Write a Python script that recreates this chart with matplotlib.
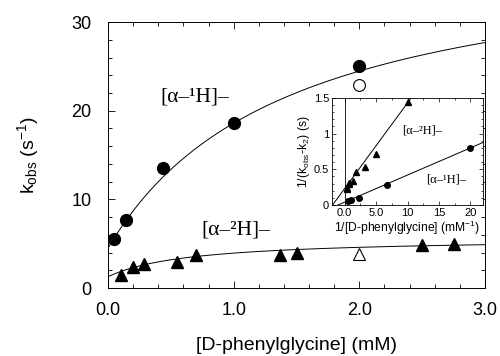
import numpy as np
import matplotlib
matplotlib.use("Agg")
import matplotlib.pyplot as plt
from matplotlib.ticker import MultipleLocator, FixedLocator, FormatStrFormatter

plt.rcParams['font.family'] = ['Liberation Sans', 'DejaVu Sans']
plt.rcParams['mathtext.fontset'] = 'custom'
plt.rcParams['mathtext.rm'] = 'Liberation Sans'
plt.rcParams['mathtext.it'] = 'Liberation Sans'
plt.rcParams['mathtext.default'] = 'regular'

# main panel: k_obs vs [D-phenylglycine]
h_conc = [0.05, 0.14, 0.44, 1.0, 2.0]
h_kobs = [5.5, 7.7, 13.5, 18.6, 25.0]
h_open = (2.0, 22.9)
d_conc = [0.10, 0.20, 0.29, 0.55, 0.70, 1.37, 1.50, 2.50, 2.75]
d_kobs = [1.47, 2.4, 2.7, 2.9, 3.7, 3.7, 4.0, 4.85, 4.96]
d_open = (2.0, 3.8)
# hyperbolic fits k = k0 + kmax*S/(K+S)
h_fit = (4.5, 34.25, 1.43)
d_fit = (1.27, 4.4, 0.65)

# inset: double reciprocal
inv_d = [10.0, 5.0, 3.3, 1.8, 1.4, 0.72, 0.66, 0.40, 0.36]
rec_d = [1.44, 0.71, 0.53, 0.46, 0.33, 0.31, 0.30, 0.24, 0.23]
inv_h = [20.0, 6.8, 2.3, 1.0, 0.5]
rec_h = [0.80, 0.28, 0.10, 0.07, 0.05]
line_d = (0.12, 0.23)   # slope, intercept
line_h = (0.038, 0.04)

fig = plt.figure(figsize=(5.0, 3.56), dpi=100)
ax = fig.add_axes([0.216, 0.191, 0.754, 0.747])

s = np.linspace(0, 3.0, 300)
for (k0, kmax, K) in (h_fit, d_fit):
    ax.plot(s, k0 + kmax * s / (K + s), color='black', lw=0.7)
ax.plot(h_conc, h_kobs, 'o', color='black', ms=8.5)
ax.plot(*h_open, 'o', mfc='white', mec='black', mew=0.8, ms=8.5)
ax.plot(d_conc, d_kobs, '^', color='black', ms=8)
ax.plot(*d_open, '^', mfc='white', mec='black', mew=0.8, ms=8)

ax.set_xlim(0, 3.0)
ax.set_ylim(0, 30)
ax.xaxis.set_major_locator(MultipleLocator(1.0))
ax.xaxis.set_minor_locator(MultipleLocator(0.2))
ax.yaxis.set_major_locator(MultipleLocator(10))
ax.yaxis.set_minor_locator(MultipleLocator(2))
ax.xaxis.set_major_formatter(FormatStrFormatter('%.1f'))
ax.tick_params(which='both', direction='in', top=True, right=True, labelsize=13, width=0.6)
ax.tick_params(which='major', length=5)
ax.tick_params(which='minor', length=3)
ax.tick_params(axis='x', which='major', pad=10)
ax.tick_params(axis='y', which='major', pad=12)
for sp in ax.spines.values():
    sp.set_linewidth(0.7)
ax.set_xlabel('[D-phenylglycine] (mM)', fontsize=14, labelpad=13)
ax.set_ylabel(r'k$_{obs}$ (s$^{-1}$)', fontsize=14, labelpad=22)

ax.text(0.42, 21.5, '[α–¹H]–', family='Liberation Serif', fontsize=15.5, va='center')
ax.text(0.74, 6.5, '[α–²H]–', family='Liberation Serif', fontsize=15.5, va='center')

# inset
ins = fig.add_axes([0.664, 0.424, 0.302, 0.301])
ins.set_facecolor('white')
xx = np.linspace(-2, 22, 200)
ins.plot(xx, line_d[0] * xx + line_d[1], color='black', lw=0.7)
ins.plot(xx, line_h[0] * xx + line_h[1], color='black', lw=0.7)
ins.axvline(0, color='black', lw=0.6)
ins.plot(inv_d, rec_d, '^', color='black', ms=4)
ins.plot(inv_h, rec_h, 'o', color='black', ms=4)
ins.set_xlim(-2, 22)
ins.set_ylim(0, 1.5)
ins.xaxis.set_major_locator(FixedLocator([0, 5, 10, 15, 20]))
ins.set_xticklabels(['0.0', '5.0', '10', '15', '20'])
ins.xaxis.set_minor_locator(MultipleLocator(2.5))
ins.yaxis.set_major_locator(FixedLocator([0, 0.5, 1.0, 1.5]))
ins.set_yticklabels(['0', '0.5', '1', '1.5'])
ins.yaxis.set_minor_locator(MultipleLocator(0.1))
ins.tick_params(which='both', direction='in', top=True, right=True, labelsize=8, width=0.5, pad=2)
ins.tick_params(which='major', length=3)
ins.tick_params(which='minor', length=1.5)
for sp in ins.spines.values():
    sp.set_linewidth(0.6)
ins.set_xlabel(r'1/[D-phenylglycine] (mM$^{-1}$)', fontsize=8.7, labelpad=1)
ins.set_ylabel(r'1/(k$_{obs}$-k$_2$) (s)', fontsize=8.7, labelpad=1)
ins.text(9.1, 1.04, '[α–²H]–', family='Liberation Serif', fontsize=9, va='center')
ins.text(13.0, 0.36, '[α–¹H]–', family='Liberation Serif', fontsize=9, va='center')

fig.savefig('out.png', dpi=100)
